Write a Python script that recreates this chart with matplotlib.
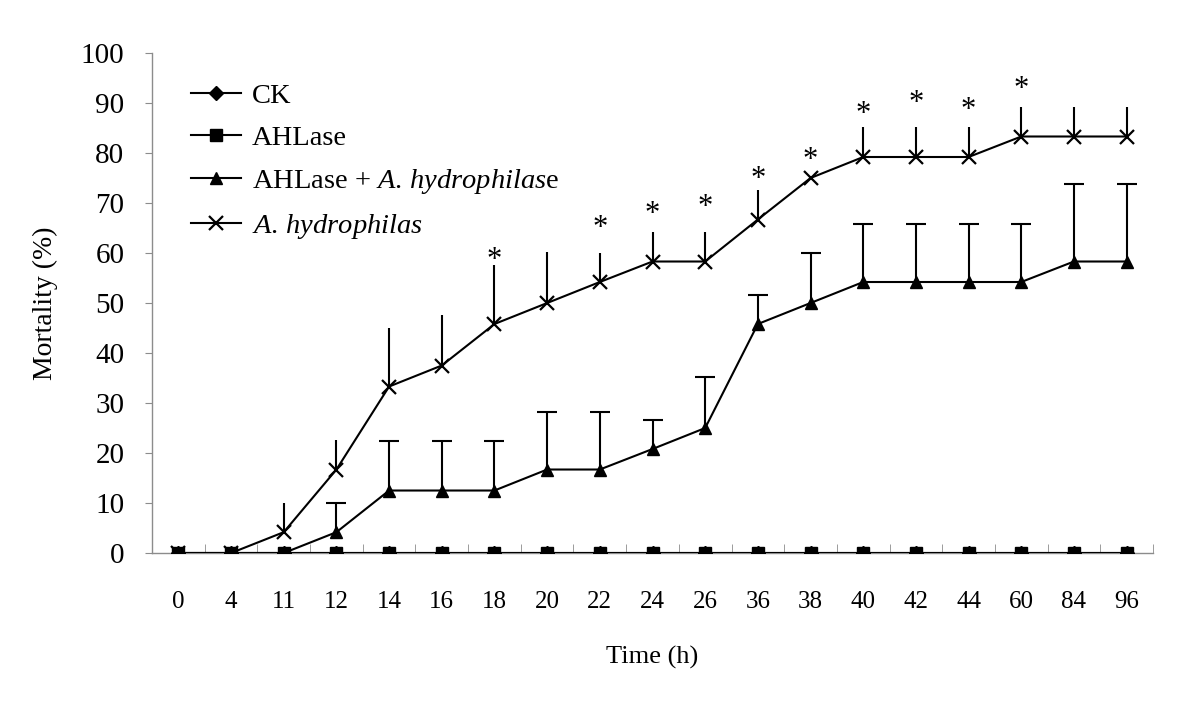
import numpy as np
import matplotlib
matplotlib.use('Agg')
import matplotlib.pyplot as plt
from matplotlib.ticker import FixedLocator

plt.rcParams['font.family'] = ['Liberation Serif', 'DejaVu Serif']
plt.rcParams['mathtext.fontset'] = 'custom'
plt.rcParams['mathtext.rm'] = 'Liberation Serif'
plt.rcParams['mathtext.it'] = 'Liberation Serif:italic'

# time points (h), treated as categories
times = ['0', '4', '11', '12', '14', '16', '18', '20', '22', '24',
         '26', '36', '38', '40', '42', '44', '60', '84', '96']

ck = [0, 0, 0, 0, 0, 0, 0, 0, 0, 0, 0, 0, 0, 0, 0, 0, 0, 0, 0]
ahlase = [0, 0, 0, 0, 0, 0, 0, 0, 0, 0, 0, 0, 0, 0, 0, 0, 0, 0, 0]

combo = [0, 0, 0, 4.17, 12.5, 12.5, 12.5, 16.7, 16.7, 20.8,
         25.0, 45.8, 50.0, 54.2, 54.2, 54.2, 54.2, 58.3, 58.3]
combo_err = [0, 0, 0, 5.9, 10.0, 10.0, 10.0, 11.6, 11.6, 5.9,
             10.2, 5.9, 10.0, 11.6, 11.6, 11.6, 11.6, 15.6, 15.6]

hydro = [0, 0, 4.17, 16.7, 33.3, 37.5, 45.8, 50.0, 54.2, 58.3,
         58.3, 66.7, 75.0, 79.2, 79.2, 79.2, 83.3, 83.3, 83.3]
hydro_err = [0, 0, 5.9, 5.9, 11.7, 10.1, 11.8, 10.2, 5.9, 5.9,
             5.9, 5.9, 0, 5.9, 5.9, 5.9, 5.9, 5.9, 5.9]

# significance marks
star_times = ['18', '22', '24', '26', '36', '38', '40', '42', '44', '60']
star_y = [59.8, 66.2, 69.0, 70.4, 76.0, 79.8, 89.0, 91.2, 89.8, 94.0]

fig = plt.figure(figsize=(12, 7.23), dpi=100)
ax = fig.add_axes([0.1267, 0.2351, 0.8341, 0.6916])

x = np.arange(len(times))
lw = 1.5

# upper error bars only (caps on the triangle series, none on the cross series)
cy = np.array(combo)
ce = np.array(combo_err)
m = ce > 0
ax.vlines(x[m], cy[m], cy[m] + ce[m], color='black', lw=lw, zorder=2)
ax.plot(x[m], cy[m] + ce[m], ls='none', marker='_', markersize=14, mew=lw, color='black', zorder=2)

hy = np.array(hydro)
he = np.array(hydro_err)
m = he > 0
ax.vlines(x[m], hy[m], hy[m] + he[m], color='black', lw=lw, zorder=2)

ax.plot(x, combo, color='black', lw=lw, marker='^', markersize=9,
        label=r'AHLase + $\mathit{A.\,hydrophilas}$e', zorder=3)
ax.plot(x, hydro, color='black', lw=lw, marker='x', markersize=10, mew=1.6,
        label=r'$\mathit{A.\,hydrophilas}$', zorder=3)
ax.plot(x, ck, color='black', lw=lw, marker='D', markersize=7.5, label='CK', zorder=4)
ax.plot(x, ahlase, color='black', lw=lw, marker='s', markersize=8.5, label='AHLase', zorder=5)

for t, sy in zip(star_times, star_y):
    ax.annotate('*', (times.index(t), sy), xytext=(0, -10), textcoords='offset points',
                ha='center', va='baseline', fontsize=22)

ax.set_xlim(-0.5, len(times) - 0.5)
ax.set_ylim(0, 100)
ax.set_yticks(np.arange(0, 101, 10))
ax.set_xticks(x)
ax.set_xticklabels(times)
ax.xaxis.set_minor_locator(FixedLocator(np.arange(-0.5, len(times), 1)))

gray = '#8c8c8c'
for s in ['top', 'right']:
    ax.spines[s].set_visible(False)
for s in ['left', 'bottom']:
    ax.spines[s].set_color(gray)
    ax.spines[s].set_linewidth(1)

ax.tick_params(axis='y', direction='out', length=5, color=gray, labelsize=21, pad=15)
ax.tick_params(axis='x', which='major', length=0, labelsize=18, pad=27)
ax.tick_params(axis='x', which='minor', direction='in', length=6.5, color=gray)

ax.set_ylabel('Mortality (%)', fontsize=20, labelpad=16)
ax.set_xlabel('Time (h)', fontsize=19, labelpad=24)

h, l = ax.get_legend_handles_labels()
order = [2, 3, 0, 1]
ax.legend([h[i] for i in order], [l[i] for i in order], loc='upper left',
          bbox_to_anchor=(0.028, 0.962), frameon=False, fontsize=20.5,
          handlelength=1.75, handletextpad=0.36, labelspacing=0.56, borderaxespad=0)

fig.savefig('out.png', dpi=100)
